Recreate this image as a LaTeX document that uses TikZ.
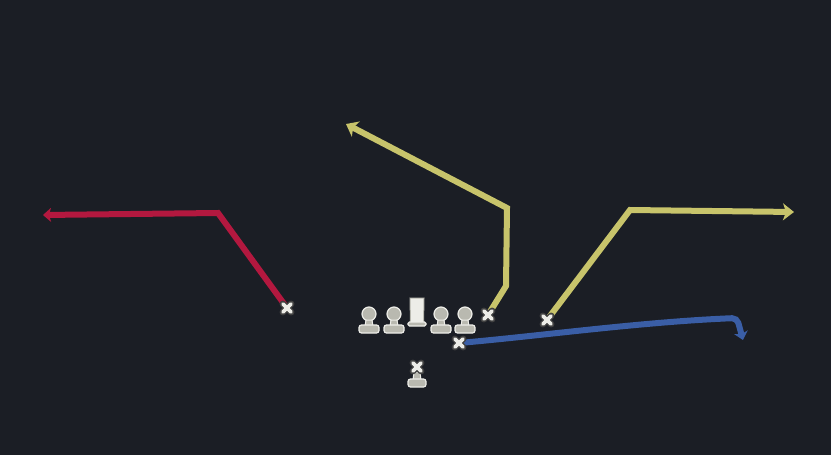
\documentclass[tikz,border=0pt]{standalone}
\usetikzlibrary{arrows.meta}
\definecolor{bg}{HTML}{1B1E25}
\definecolor{rred}{HTML}{B3183F}
\definecolor{ryel}{HTML}{C8C46B}
\definecolor{rblue}{HTML}{3A5EA6}
\definecolor{plw}{HTML}{EDEDE8}
\definecolor{plg}{HTML}{B9B9B0}
\begin{document}
\begin{tikzpicture}[x=1pt,y=-1pt,
  route/.style={line width=6pt, line join=miter},
  bigtip/.style={-{Stealth[length=11pt,width=17pt,inset=3pt]}},
  smalltip/.style={-{Stealth[length=8pt,width=14pt,inset=2pt]}},
  lineman/.pic={
    \fill[plg,draw=plw,line width=1.2pt] (0,0) circle (7);
    \fill[plg,draw=plw,line width=1pt] (-3,6) -- (3,6) -- (4,12) -- (-4,12) -- cycle;
    \fill[plg,draw=plw,line width=1.2pt,rounded corners=2.5pt] (-10,11) rectangle (10,19);
  },
  centerpic/.pic={
    \fill[plw,draw=plg,line width=1pt] (-7,-16) -- (7,-16) -- (6.5,9) -- (-6.5,9) -- cycle;
    \fill[plg,draw=plw,line width=1.2pt,rounded corners=1.5pt] (-9,8) rectangle (9,12);
  },
  xmark/.pic={
    \draw[black!75,line width=6.5pt,line cap=round] (-4.2,-4.2) -- (4.2,4.2) (-4.2,4.2) -- (4.2,-4.2);
    \draw[plw,line width=3.6pt,line cap=round] (-4.2,-4.2) -- (4.2,4.2) (-4.2,4.2) -- (4.2,-4.2);
  },
  qbbase/.pic={
    \fill[plg,draw=plw,line width=1pt] (-3,5) -- (3,5) -- (4,13) -- (-4,13) -- cycle;
    \fill[plg,draw=plw,line width=1.2pt,rounded corners=2.5pt] (-9,12) rectangle (9,20);
  }]
\fill[bg] (0,0) rectangle (831,455);
\useasboundingbox (0,0) rectangle (831,455);

% player positions
\coordinate (wrL) at (287,308);
\coordinate (te) at (488,315);
\coordinate (wrR) at (547,320);
\coordinate (rb) at (459,343);
\coordinate (qb) at (417,367);
\coordinate (lt) at (369,314);
\coordinate (lg) at (394,314);
\coordinate (c) at (417,314);
\coordinate (rg) at (441,314);
\coordinate (rt) at (465,314);

% route points
\coordinate (r1) at (218,213);
\coordinate (r2) at (43,215);
\coordinate (y1a) at (506,286);
\coordinate (y1b) at (507,208);
\coordinate (y1c) at (346,124);
\coordinate (y2a) at (630,210);
\coordinate (y2b) at (794,212);
\coordinate (b2) at (737,318);
\coordinate (b3) at (743,340);

% routes
\draw[route,rred,smalltip] (wrL) -- (r1) -- (r2);
\draw[route,ryel,bigtip] (te) -- (y1a) -- (y1b) -- (y1c);
\draw[route,ryel,bigtip] (wrR) -- (y2a) -- (y2b);
\draw[route,rblue,smalltip,rounded corners=5pt] (rb) .. controls (540,336) and (640,322) .. (b2) -- (b3);

% players
\pic at (lt) {lineman};
\pic at (lg) {lineman};
\pic at (c) {centerpic};
\pic at (rg) {lineman};
\pic at (rt) {lineman};
\pic at (qb) {qbbase};
\pic at (qb) {xmark};
\pic at (wrL) {xmark};
\pic at (te) {xmark};
\pic at (wrR) {xmark};
\pic at (rb) {xmark};
\end{tikzpicture}
\end{document}
